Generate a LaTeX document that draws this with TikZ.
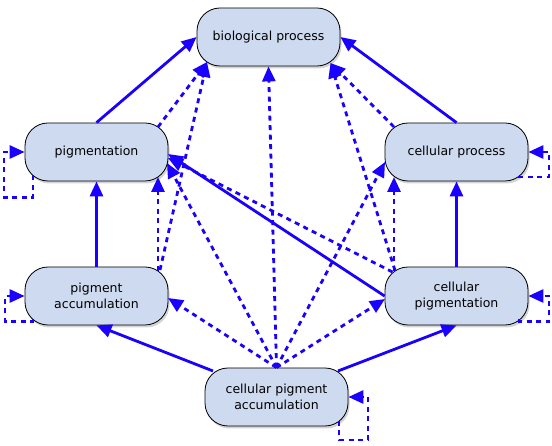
\documentclass[tikz,border=0pt]{standalone}
\usepackage{fontspec}
\usepackage{tikz}
\usepackage{xcolor}
\usetikzlibrary{positioning}
\usetikzlibrary{shapes,arrows.meta,shadows}
\newfontfamily\termfont{DejaVu Sans}
\definecolor{edgeblue}{RGB}{26,0,255}
\definecolor{termfill}{RGB}{206,218,240}

\begin{document}
\begin{tikzpicture}[x=1pt,y=1pt,
  term/.style={draw=black, line width=0.8pt, fill=termfill, rounded corners=23pt,
    minimum width=143pt, minimum height=58pt, align=center,
    font=\termfont\fontsize{12.5}{16}\selectfont,
    drop shadow={shadow xshift=1.5pt, shadow yshift=-2.5pt, opacity=0.35}},
  isa/.style={draw=edgeblue, line width=2.8pt, -{Triangle[length=15pt,width=13pt]}},
  infer/.style={isa, dash pattern=on 5pt off 4.5pt}]
  \useasboundingbox (0,0) rectangle (552,-446);
  \node(bp) [term] at (268.5,-37) {biological process};
  \node(pig) [term, on grid, below left=115pt and 172pt of bp] {pigmentation};
  \node(cp) [term, on grid, right=360pt of pig] {cellular process};
  \node(pa) [term, on grid, below=144pt of pig] {pigment\\accumulation};
  \node(cpig) [term, on grid, below=144pt of cp] {cellular\\pigmentation};
  \node(cpa) [term, on grid, below right=101pt and 180pt of pa] {cellular pigment\\accumulation};
  \draw[isa] (pig.north) -- (bp.west);
  \draw[isa] (cp.north) -- (bp.east);
  \draw[isa] (pa.north) -- (pig.south);
  \draw[isa] (cpig.north) -- (cp.south);
  \draw[isa] ([shift={(-63.5,26)}]cpa.center) -- (pa.south);
  \draw[isa] ([shift={(61.5,26)}]cpa.center) -- (cpig.south);
  \draw[isa] (cpig.west) -- ([shift={(71.5,-2)}]pig.center);
  \draw[infer] ([shift={(61.5,25)}]pig.center) -- ([shift={(-61.5,-25)}]bp.center);
  \draw[infer] ([shift={(63.5,26)}]pa.center) -- ([shift={(-61.5,-25)}]bp.center);
  \draw[infer] ([shift={(61.5,25)}]pa.center) -- ([shift={(61.5,-25)}]pig.center);
  \draw[infer] ([shift={(-62.5,25)}]cp.center) -- ([shift={(62,-26)}]bp.center);
  \draw[infer] ([shift={(-62.5,25)}]cpig.center) -- ([shift={(-62.5,-25)}]cp.center);
  \draw[infer] ([shift={(-61.5,25.5)}]cpig.center) -- ([shift={(62,-26)}]bp.center);
  \draw[infer] ([shift={(-64,24)}]cpig.center) -- ([shift={(71.5,-6)}]pig.center);
  \draw[infer] (cpa.north) -- ([shift={(70.5,-11)}]pig.center);
  \draw[infer] (cpa.north) -- ([shift={(71.5,-2)}]pa.center);
  \draw[infer] (cpa.north) -- (bp.south);
  \draw[infer] (cpa.north) -- ([shift={(-71.5,-10)}]cp.center);
  \draw[infer] (cpa.north) -- ([shift={(-71.5,-3)}]cpig.center);
  \draw[infer] ([shift={(-63.5,-23.5)}]pig.center) |- ++(-29,-22) |- (pig.west);
  \draw[infer] ([shift={(62.5,-24)}]cp.center) |- ++(30,-1) |- (cp.east);
  \draw[infer] ([shift={(-63.5,-23.5)}]pa.center) |- ++(-28,-2) |- (pa.west);
  \draw[infer] ([shift={(62.5,-23.5)}]cpig.center) |- ++(30,-2) |- (cpig.east);
  \draw[infer] ([shift={(62.5,-24)}]cpa.center) |- ++(29,-19) |- (cpa.east);
\end{tikzpicture}
\end{document}
